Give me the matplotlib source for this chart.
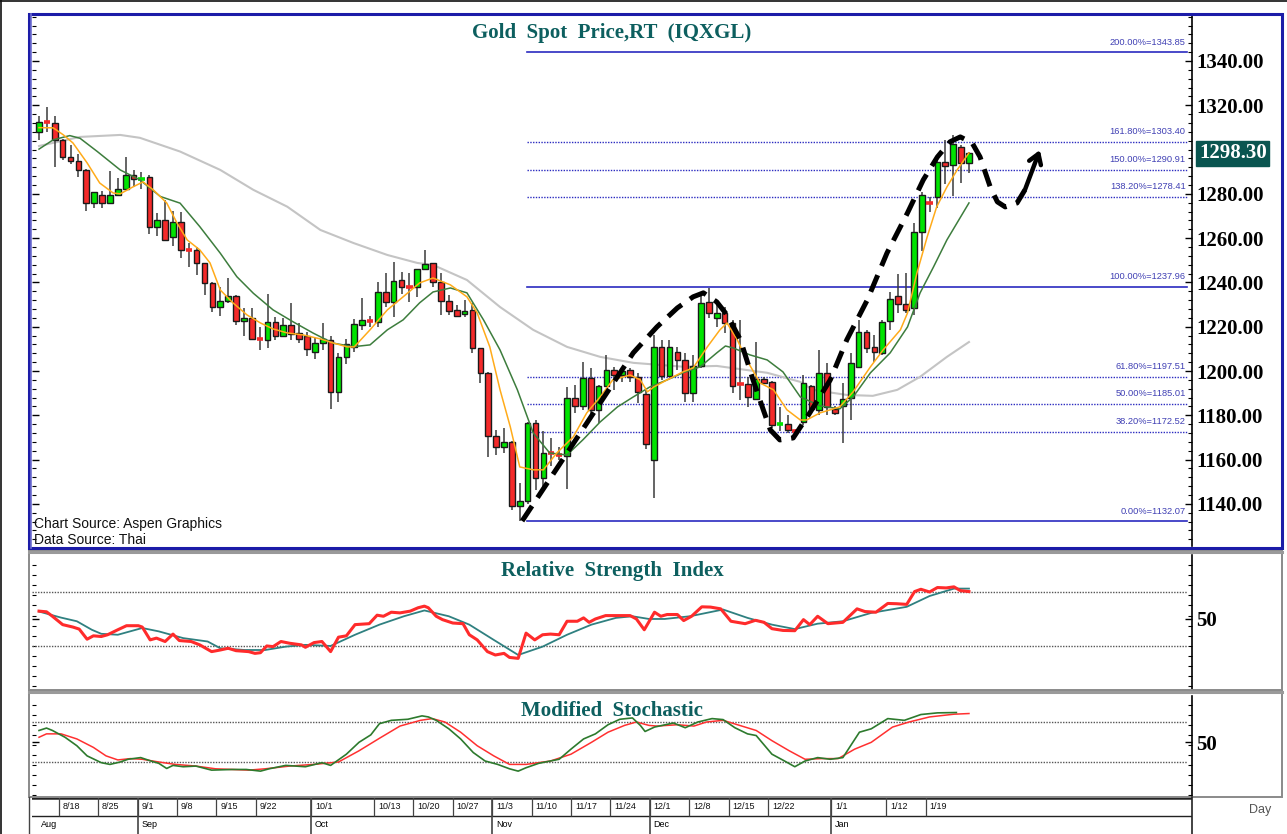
import numpy as np
import pandas as pd
import matplotlib
matplotlib.use('Agg')
import matplotlib.pyplot as plt
from matplotlib.patches import Rectangle
from matplotlib.lines import Line2D
from matplotlib.ticker import MultipleLocator, FixedLocator

# daily bars, 2014-08-13 .. 2015-01-26
opens = [1308.1, 1312.5, 1311.9, 1304.4, 1296.8, 1294.9, 1290.8, 1275.8, 1279.7, 1275.8,
         1279.7, 1282.1, 1288.7, 1286.6, 1287.4, 1265.2, 1268.2, 1260.7, 1267.5, 1254.6,
         1254.5, 1248.7, 1239.6, 1229.1, 1231.7, 1234.1, 1222.6, 1224.1, 1214.6, 1214.0,
         1222.0, 1215.9, 1220.8, 1217.1, 1215.6, 1208.5, 1212.6, 1214.0, 1190.5, 1206.5,
         1211.0, 1220.8, 1223.0, 1222.0, 1235.6, 1231.3, 1241.1, 1238.3, 1238.1, 1246.1,
         1248.7, 1240.4, 1231.4, 1227.6, 1225.8, 1227.6, 1210.3, 1199.3, 1170.7, 1165.9,
         1167.9, 1139.2, 1141.5, 1176.4, 1151.6, 1163.1, 1162.3, 1161.7, 1187.7, 1184.4,
         1196.8, 1182.5, 1193.4, 1200.5, 1198.2, 1200.5, 1197.5, 1189.5, 1159.9, 1211.0,
         1197.8, 1208.8, 1205.0, 1190.0, 1202.3, 1231.1, 1223.9, 1226.4, 1221.6, 1194.4,
         1194.2, 1187.4, 1196.3, 1195.2, 1175.8, 1176.1, 1173.3, 1177.2, 1193.3, 1182.5,
         1199.3, 1183.0, 1184.3, 1187.7, 1201.7, 1217.5, 1211.0, 1208.0, 1222.6, 1234.1,
         1230.2, 1228.4, 1262.7, 1276.4, 1278.5, 1294.3, 1292.9, 1301.1, 1293.8]
highs = [1315.2, 1319.1, 1315.2, 1304.6, 1302.1, 1298.0, 1291.2, 1281.0, 1281.5, 1290.5,
         1287.3, 1296.5, 1290.8, 1290.0, 1288.5, 1271.3, 1277.3, 1272.4, 1272.0, 1257.8,
         1256.2, 1249.0, 1240.0, 1238.1, 1241.9, 1234.5, 1228.4, 1228.4, 1220.1, 1234.8,
         1224.6, 1223.9, 1230.6, 1221.6, 1217.5, 1215.0, 1221.7, 1216.0, 1208.0, 1214.5,
         1223.5, 1233.0, 1225.0, 1240.2, 1244.2, 1249.4, 1244.9, 1244.3, 1246.0, 1254.7,
         1249.0, 1244.2, 1234.4, 1229.8, 1232.1, 1230.8, 1210.5, 1199.5, 1173.4, 1174.2,
         1168.2, 1149.3, 1177.2, 1177.9, 1172.7, 1169.7, 1165.9, 1193.0, 1193.7, 1204.3,
         1201.3, 1193.5, 1207.3, 1202.0, 1202.0, 1201.3, 1199.0, 1191.5, 1216.3, 1214.1,
         1214.1, 1211.0, 1208.0, 1207.3, 1235.1, 1237.4, 1232.1, 1229.1, 1223.1, 1223.1,
         1197.5, 1213.3, 1197.5, 1195.5, 1183.9, 1180.2, 1174.0, 1198.2, 1193.5, 1209.5,
         1203.5, 1184.3, 1194.5, 1208.0, 1223.1, 1218.6, 1216.3, 1223.1, 1235.9, 1243.8,
         1244.2, 1266.7, 1281.0, 1278.8, 1296.8, 1304.4, 1306.6, 1302.1, 1299.1]
lows = [1304.4, 1308.1, 1292.0, 1295.3, 1293.5, 1287.5, 1272.4, 1273.5, 1273.5, 1275.5,
        1279.1, 1281.8, 1283.3, 1282.2, 1261.9, 1261.1, 1258.9, 1256.5, 1250.9, 1247.1,
        1243.4, 1234.4, 1226.8, 1224.9, 1230.6, 1220.8, 1215.6, 1214.2, 1209.5, 1210.3,
        1214.0, 1215.5, 1214.0, 1212.6, 1207.0, 1205.5, 1209.5, 1183.0, 1186.0, 1203.0,
        1208.5, 1218.6, 1220.0, 1220.0, 1229.0, 1224.6, 1235.0, 1231.3, 1233.6, 1245.7,
        1238.1, 1225.3, 1225.3, 1224.6, 1224.6, 1208.2, 1194.8, 1161.1, 1162.1, 1162.9,
        1137.3, 1132.1, 1140.0, 1146.3, 1147.1, 1156.9, 1159.9, 1146.6, 1181.0, 1182.5,
        1177.9, 1176.4, 1193.0, 1191.5, 1195.0, 1195.2, 1185.5, 1164.7, 1142.6, 1196.0,
        1197.5, 1200.5, 1186.2, 1186.2, 1201.3, 1223.9, 1220.1, 1217.1, 1190.0, 1186.9,
        1183.9, 1186.9, 1194.5, 1174.2, 1172.7, 1171.9, 1172.0, 1175.7, 1181.0, 1180.2,
        1180.2, 1180.2, 1167.4, 1177.9, 1201.3, 1208.0, 1204.3, 1207.3, 1218.6, 1226.1,
        1226.1, 1225.3, 1254.4, 1272.0, 1273.5, 1284.5, 1279.1, 1284.8, 1289.6]
closes = [1312.3, 1312.0, 1304.4, 1296.8, 1294.9, 1290.8, 1275.8, 1280.7, 1275.8, 1279.7,
          1282.2, 1288.6, 1286.6, 1287.2, 1265.2, 1268.2, 1259.2, 1267.5, 1254.7, 1254.3,
          1248.7, 1239.6, 1229.1, 1231.7, 1234.1, 1222.6, 1224.1, 1214.4, 1214.2, 1222.0,
          1215.9, 1220.8, 1216.8, 1214.4, 1210.0, 1212.6, 1214.5, 1190.5, 1206.5, 1212.0,
          1221.1, 1223.1, 1222.6, 1235.6, 1231.3, 1240.7, 1238.1, 1238.0, 1245.9, 1248.2,
          1240.4, 1231.4, 1227.3, 1224.9, 1227.3, 1210.3, 1199.3, 1170.7, 1165.9, 1167.9,
          1139.2, 1141.5, 1176.4, 1151.6, 1163.2, 1162.7, 1161.9, 1187.7, 1184.4, 1196.8,
          1182.5, 1193.4, 1200.5, 1198.2, 1200.0, 1197.5, 1190.7, 1167.1, 1211.0, 1197.8,
          1211.0, 1205.0, 1190.0, 1202.3, 1230.6, 1226.1, 1226.4, 1221.6, 1193.4, 1194.0,
          1188.5, 1196.3, 1194.8, 1175.7, 1176.2, 1173.4, 1172.9, 1194.5, 1182.8, 1199.3,
          1183.7, 1181.2, 1187.3, 1203.8, 1217.5, 1210.3, 1208.5, 1222.3, 1232.6, 1230.2,
          1227.6, 1262.7, 1279.4, 1275.4, 1294.6, 1292.6, 1302.6, 1293.8, 1298.3]

# moving averages (bar index, price)
ma_fast_x = [0, 1.8, 3.1, 4.3, 6.1, 7.7, 9.4, 10.3, 11.9, 13.2, 14.5, 16.2, 17.5, 18.8, 20.4,
             21.7, 23, 24.6, 26.4, 28.1, 29.7, 31.5, 33.5, 35.7, 37.3, 39.1, 40, 42, 44.2, 46.2,
             48.3, 50, 52.2, 54.3, 55.6, 57.2, 58.5, 59.8, 61, 62.7, 64, 65.7, 67.8, 69.5, 71.2,
             72.8, 75, 76.3, 77.2, 78, 79.7, 81.7, 83, 84.8, 86.4, 87.3, 88.6, 89.8, 91.5, 93.2,
             94.9, 96.6, 97.4, 99.1, 101.6, 103.3, 105.5, 107.1, 109.3, 110.2, 111.4, 112.7,
             113.9, 115.2, 116.5, 118]
ma_fast_y = [1309.9, 1309.8, 1306.6, 1303.0, 1294.0, 1284.9, 1280.4, 1280.0, 1283.1, 1285.4,
             1281.8, 1275.9, 1266.9, 1259.2, 1254.7, 1248.8, 1236.6, 1230.8, 1225.3, 1221.7,
             1219.0, 1217.2, 1216.3, 1214.5, 1212.7, 1210.9, 1210.9, 1218.6, 1227.6, 1233.5,
             1239.8, 1242.0, 1238.9, 1233.5, 1226.2, 1210.9, 1191.5, 1174.8, 1156.7, 1155.4,
             1155.4, 1163.0, 1170.3, 1181.1, 1188.3, 1196.0, 1198.2, 1196.0, 1190.6, 1192.8,
             1196.0, 1199.6, 1201.4, 1210.9, 1218.6, 1221.7, 1214.1, 1205.0, 1194.6, 1191.5,
             1182.5, 1177.9, 1177.9, 1181.1, 1183.8, 1190.6, 1201.9, 1209.5, 1218.6, 1226.2,
             1244.3, 1260.6, 1274.1, 1283.1, 1290.8, 1298.5]
ma_mid_x = [0, 1.8, 3.9, 5.2, 7.4, 10.3, 12.8, 15.4, 17.9, 20.4, 23, 25.1, 27.2, 29.7, 32.2,
            34.8, 37.3, 39.9, 42, 44.2, 46.2, 48.3, 50, 52.2, 54.3, 56.4, 58.5, 60.7, 62.7,
            64.8, 67, 69, 71.2, 73.4, 75.4, 77.5, 79.7, 81.7, 83.9, 86, 87.1, 88.1, 90.2, 92.4,
            94.4, 96.6, 99.1, 101.6, 103.3, 105.5, 108, 110.2, 111.8, 113.5, 115.2, 118]
ma_mid_y = [1300.2, 1304.4, 1306.3, 1305.1, 1299.1, 1290.8, 1286.3, 1278.8, 1275.8, 1265.2,
            1253.2, 1242.6, 1235.1, 1227.6, 1222.3, 1217.1, 1212.6, 1211.0, 1211.8, 1218.6,
            1223.1, 1230.8, 1235.7, 1237.5, 1235.3, 1223.1, 1209.5, 1191.5, 1172.1, 1163.0,
            1162.1, 1168.9, 1177.0, 1183.8, 1188.3, 1192.8, 1196.0, 1199.2, 1201.9, 1208.2,
            1211.3, 1210.4, 1207.3, 1205.0, 1199.6, 1188.3, 1184.3, 1182.9, 1188.3, 1199.2,
            1208.2, 1219.9, 1235.3, 1247.0, 1259.2, 1275.9]
ma_slow_x = [0, 5.2, 10.3, 12.8, 17.9, 23, 27.2, 31.5, 35.7, 39.9, 44.2, 48, 50, 54.3, 58.5,
             62.7, 67, 71.2, 75.4, 81.9, 86, 92.4, 96.6, 98.2, 102.5, 105.8, 108.9, 111.8,
             115.2, 118]
ma_slow_y = [1301.6, 1305.7, 1306.6, 1305.3, 1299.1, 1290.8, 1281.8, 1274.2, 1263.7, 1257.8,
             1252.4, 1248.8, 1247.9, 1241.1, 1228.9, 1218.6, 1210.9, 1206.4, 1203.7, 1201.9,
             1202.3, 1199.2, 1195.1, 1191.5, 1189.2, 1188.8, 1191.5, 1197.4, 1206.4, 1213.1]

# fibonacci levels
fib_pct = ['200.00%', '161.80%', '150.00%', '138.20%', '100.00%', '61.80%', '50.00%', '38.20%', '0.00%']
fib_val = [1343.85, 1303.40, 1290.91, 1278.41, 1237.96, 1197.51, 1185.01, 1172.52, 1132.07]
fib_solid = [True, False, False, False, True, False, False, False, True]

# hand drawn projection path (bar index, price)
path_x = [61.3, 75.4, 78.4, 81.0, 83.0, 84.3, 86.0, 87.3, 89.0, 90.6, 91.9, 92.8, 94.0, 95.7,
          97.8, 100.4, 102.5, 105.1, 107.6, 110.2, 112.2, 114.0, 115.6, 116.9, 118.4, 119.4,
          120.7, 121.6, 122.6, 124.1, 125.1]
path_y = [1132.3, 1208.2, 1219.9, 1228.5, 1233.5, 1235.3, 1231.2, 1225.3, 1214.1, 1196.0,
          1182.5, 1173.4, 1168.9, 1169.8, 1181.1, 1196.0, 1214.1, 1232.1, 1253.3, 1271.4,
          1286.3, 1296.7, 1303.5, 1305.7, 1303.0, 1296.7, 1283.1, 1276.4, 1274.1, 1275.9, 1281.8]
arrow_tip = (127.0, 1299.8)

# RSI
rsi_x = [0, 0.95, 1.7, 3.0, 4.3, 5.1, 6.1, 6.9, 7.9, 8.7, 10.0, 11.1, 12.6, 13.1, 14.1, 14.9,
         16.0, 17.0, 17.8, 19.3, 20.4, 21.9, 23.0, 24.0, 25.0, 26.6, 27.4, 28.1, 28.9, 29.7,
         30.7, 31.8, 33.3, 33.8, 34.9, 35.9, 37.0, 38.0, 39.0, 40.1, 41.9, 42.9, 43.7, 44.7,
         45.8, 47.1, 48.1, 48.9, 49.4, 50.4, 51.2, 52.5, 53.8, 54.6, 55.6, 56.9, 57.9, 59.0,
         59.7, 60.8, 61.8, 62.9, 63.9, 64.9, 66.0, 67.0, 68.3, 69.1, 69.8, 70.6, 71.9, 73.7,
         75.0, 75.8, 76.8, 78.1, 78.9, 79.7, 81.0, 81.8, 82.8, 84.1, 85.2, 86.5, 87.8, 89.6,
         90.9, 92.0, 93.0, 94.4, 95.9, 97.0, 97.8, 98.8, 100.1, 102.0, 103.8, 104.8, 106.2,
         107.7, 108.8, 110.1, 111.1, 111.9, 113.0, 114.0, 115.1, 116.1, 116.9, 118.0]
rsi_y = [55.8, 55.3, 52.0, 45.8, 44.0, 42.5, 35.0, 37.5, 37.0, 38.3, 42.0, 45.0, 45.0, 44.0,
         34.5, 35.8, 33.3, 38.8, 34.0, 33.3, 30.8, 25.8, 27.0, 28.3, 26.5, 25.8, 24.5, 25.0,
         30.0, 29.5, 33.3, 32.0, 30.8, 29.0, 32.5, 33.3, 25.8, 36.5, 37.5, 45.8, 46.5, 52.8,
         52.0, 55.0, 54.5, 55.8, 58.3, 59.5, 58.3, 52.0, 49.5, 47.0, 46.5, 38.3, 34.5, 25.8,
         23.3, 24.5, 21.5, 20.8, 39.5, 34.5, 38.3, 38.8, 38.3, 48.3, 48.3, 50.8, 47.5, 50.0,
         52.5, 52.5, 52.5, 50.0, 42.0, 55.0, 52.0, 53.3, 53.3, 48.8, 52.0, 59.0, 58.8, 57.5,
         48.3, 46.5, 49.0, 47.5, 42.8, 41.5, 41.3, 49.5, 45.8, 52.0, 46.5, 47.5, 57.5, 55.5,
         55.0, 61.5, 61.3, 60.8, 70.3, 72.0, 70.0, 73.3, 73.0, 73.8, 71.0, 70.3]
rsi_sig_x = [0, 2.8, 4.8, 6.7, 7.9, 10.0, 13.1, 15.2, 18.3, 21.4, 23.0, 26.1, 28.7, 31.3,
             33.8, 37.0, 40.1, 43.2, 46.3, 48.9, 52.0, 54.6, 57.7, 60.8, 63.9, 67.0, 70.1,
             73.2, 75.3, 77.4, 79.4, 82.6, 86.8, 89.9, 93.0, 95.9, 98.8, 102.0, 105.6, 110.1,
             113.0, 116.1, 118.0]
rsi_sig_y = [55.5, 51.0, 48.3, 42.0, 39.0, 38.3, 43.3, 40.8, 35.8, 33.3, 28.3, 27.0, 27.0,
             29.5, 30.8, 30.0, 38.3, 45.8, 52.0, 56.3, 52.0, 45.8, 34.5, 23.3, 29.5, 38.3,
             45.8, 50.8, 52.0, 50.0, 50.0, 52.0, 57.0, 50.8, 45.8, 42.5, 46.5, 48.3, 54.5,
             59.0, 67.0, 72.5, 72.5]

# modified stochastic
sto_k_x = [0, 0.95, 1.7, 3.3, 4.8, 6.1, 7.9, 9.0, 10.3, 11.3, 12.9, 14.2, 15.2, 16.2, 17.0,
           18.3, 19.9, 21.9, 24.5, 26.3, 28.1, 29.2, 31.3, 33.8, 35.9, 37.0, 39.0, 40.6, 42.1,
           43.2, 44.7, 46.8, 48.6, 49.4, 50.4, 52.0, 53.5, 55.1, 56.6, 58.2, 59.7, 60.8, 61.8,
           63.4, 66.0, 67.5, 69.1, 70.6, 72.2, 73.7, 75.3, 76.3, 76.9, 78.1, 80.5, 82.0, 83.6,
           85.4, 86.8, 88.3, 89.9, 91.0, 93.0, 94.6, 95.9, 97.2, 98.8, 100.4, 102.0, 104.1,
           105.6, 107.7, 109.8, 111.9, 114.0, 116.4]
sto_k_y = [67.3, 70.9, 67.3, 57.1, 44.4, 29.2, 19.0, 16.4, 20.0, 24.1, 26.6, 21.5, 18.0, 10.3,
           14.9, 12.9, 13.9, 7.8, 8.8, 8.8, 6.3, 9.8, 14.9, 12.9, 19.0, 14.9, 31.7, 49.5, 60.7,
           77.5, 82.5, 84.1, 89.2, 87.6, 82.5, 69.8, 54.6, 34.2, 21.5, 16.4, 9.8, 6.3, 11.4,
           18.0, 24.1, 39.3, 54.6, 62.2, 75.9, 84.1, 86.1, 74.9, 65.8, 72.4, 78.5, 71.4, 80.0,
           85.1, 83.6, 71.4, 62.2, 59.7, 31.7, 21.5, 12.9, 21.5, 26.6, 24.1, 26.6, 64.7, 69.8,
           85.1, 82.5, 91.2, 93.7, 94.2]
sto_d_x = [0, 0.95, 2.8, 4.8, 6.9, 8.5, 10.0, 11.6, 13.1, 15.2, 17.3, 19.9, 22.4, 24.5, 26.6,
           28.7, 31.8, 34.9, 38.0, 40.6, 43.2, 45.8, 48.4, 49.9, 51.5, 53.5, 55.6, 57.7, 59.7,
           61.8, 64.9, 67.5, 70.1, 72.2, 74.3, 75.8, 77.4, 78.4, 81.0, 83.1, 84.7, 86.8, 88.9,
           91.0, 93.0, 95.2, 97.2, 99.3, 101.4, 103.5, 105.6, 108.3, 110.4, 113.0, 116.1, 118.0]
sto_d_y = [57.1, 62.2, 62.2, 54.6, 41.9, 29.2, 23.1, 25.1, 24.1, 20.0, 16.4, 13.9, 9.8, 8.8,
           7.8, 9.8, 13.9, 16.4, 20.0, 36.8, 55.6, 73.9, 82.5, 85.1, 80.0, 64.7, 44.4, 29.2,
           16.4, 16.4, 21.5, 31.7, 49.5, 64.7, 74.9, 80.0, 74.9, 73.9, 75.9, 73.9, 80.0, 82.5,
           74.9, 67.3, 52.0, 36.8, 24.1, 25.1, 25.1, 39.3, 49.5, 72.4, 80.0, 87.6, 91.7, 92.7]

# date axis
week_ticks = ['2014-08-18', '2014-08-25', '2014-09-01', '2014-09-08', '2014-09-15', '2014-09-22',
              '2014-10-01', '2014-10-13', '2014-10-20', '2014-10-27', '2014-11-03', '2014-11-10',
              '2014-11-17', '2014-11-24', '2014-12-01', '2014-12-08', '2014-12-15', '2014-12-22',
              '2015-01-01', '2015-01-12', '2015-01-19']
month_ticks = ['2014-09-01', '2014-10-01', '2014-11-03', '2014-12-01', '2015-01-01']
month_names = ['Sep', 'Oct', 'Nov', 'Dec', 'Jan']

W, H = 1287, 834
XLIM = (-0.89, 146.3)
TEAL = '#0d5f5f'
FIB_BLUE = '#2b2bc0'
SERIF = ['Liberation Serif', 'DejaVu Serif']
SANS = ['Liberation Sans', 'DejaVu Sans']


def frac(x0, y0, x1, y1):
    """pixel box -> figure fraction rect"""
    return [x0 / W, 1 - y1 / H, (x1 - x0) / W, (y1 - y0) / H]


def style_axis(ax):
    ax.set_xlim(*XLIM)
    for s in ('top', 'bottom', 'left'):
        ax.spines[s].set_visible(False)
    ax.spines['right'].set_color('black')
    ax.spines['right'].set_linewidth(1.2)
    ax.tick_params(axis='x', bottom=False, labelbottom=False)
    ax.tick_params(axis='y', which='both', left=True, right=True, direction='in',
                   labelleft=False, labelright=True, colors='black', pad=3)
    ax.tick_params(axis='y', which='major', length=5, width=1)
    ax.tick_params(axis='y', which='minor', length=3, width=0.8)
    ax.patch.set_alpha(0)


fig = plt.figure(figsize=(W / 100, H / 100), dpi=100)
fig.patch.set_facecolor('white')

# ---------------- price panel ----------------
ax = fig.add_axes(frac(32, 16, 1192, 546))
style_axis(ax)
ax.set_ylim(1121.0, 1360.3)
ax.yaxis.set_minor_locator(MultipleLocator(4))
price_ticks = [1140, 1160, 1180, 1200, 1220, 1240, 1260, 1280, 1320, 1340]
ax.set_yticks(price_ticks)
ax.set_yticklabels(['%.2f' % v for v in price_ticks],
                   fontfamily=SERIF, fontweight='bold', fontsize=15)

o, h, l, c = map(np.array, (opens, highs, lows, closes))
x = np.arange(len(c))
up = c >= o
doji = np.abs(c - o) < 1.2
ax.vlines(x, l, h, color='#3a3a3a', lw=1.1, zorder=3)
lo = np.minimum(o, c)
ht = np.abs(c - o)
for mask, col in ((up & ~doji, '#00e400'), (~up & ~doji, '#f42a2a')):
    ax.bar(x[mask], ht[mask], bottom=lo[mask], width=0.72, color=col,
           edgecolor='#1a1a1a', linewidth=1.0, zorder=4)
for mask, col in ((up & doji, '#00e400'), (~up & doji, '#f42a2a')):
    ax.hlines((o[mask] + c[mask]) / 2, x[mask] - 0.4, x[mask] + 0.4, color=col, lw=2.6, zorder=4)

ax.plot(ma_slow_x, ma_slow_y, color='#c4c4c4', lw=1.5, zorder=2)
ax.plot(ma_mid_x, ma_mid_y, color='#3d7d3d', lw=1.1, zorder=5)
ax.plot(ma_fast_x, ma_fast_y, color='#ffab1a', lw=1.1, zorder=5)

for pct, val, solid in zip(fib_pct, fib_val, fib_solid):
    ax.plot([61.9, 145.7], [val, val], color=FIB_BLUE, lw=1.2 if solid else 1.0,
            ls='-' if solid else (0, (1, 1)), zorder=1)
    ax.annotate('%s=%.2f' % (pct, val), xy=(145.5, val), xytext=(0, 7.5),
                textcoords='offset points', ha='right', va='center', fontsize=6.7,
                color='#4040b4', fontfamily=SANS)

ax.plot(path_x, path_y, color='black', lw=3.6, ls=(0, (3.6, 2.0)), zorder=6,
        solid_capstyle='butt', dash_capstyle='butt')
ax.annotate('', xy=arrow_tip, xytext=(path_x[-1], path_y[-1]),
            arrowprops=dict(arrowstyle='->,head_length=0.7,head_width=0.45', color='black',
                            lw=3.2, shrinkA=0, shrinkB=0), zorder=6)

ax.text(0.5, 0.968, 'Gold  Spot  Price,RT  (IQXGL)', transform=ax.transAxes, ha='center',
        va='center', fontsize=15, fontweight='bold', color=TEAL, fontfamily=SERIF)
ax.text(0.0015, 0.0415, 'Chart Source: Aspen Graphics', transform=ax.transAxes, ha='left',
        va='center', fontsize=10, color='#111111', fontfamily=SANS)
ax.text(0.0015, 0.0113, 'Data Source: Thai', transform=ax.transAxes, ha='left',
        va='center', fontsize=10, color='#111111', fontfamily=SANS)

ax.annotate('%.2f' % closes[-1], xy=(1.0, closes[-1]), xycoords=('axes fraction', 'data'),
            xytext=(5, 0), textcoords='offset points', ha='left', va='center', fontsize=15,
            fontweight='bold', color='white', fontfamily=SERIF,
            bbox=dict(boxstyle='square,pad=0.12', fc='#0a5550', ec='#0a5550'))

# ---------------- RSI panel ----------------
axr = fig.add_axes(frac(32, 555, 1192, 689))
style_axis(axr)
axr.set_ylim(-1.9, 97.4)
axr.yaxis.set_major_locator(FixedLocator([50]))
axr.yaxis.set_minor_locator(MultipleLocator(7.5))
axr.set_yticklabels(['50'], fontfamily=SERIF, fontweight='bold', fontsize=15)
for lvl in (70, 30):
    axr.plot([XLIM[0], 145.7], [lvl, lvl], color='#555555', lw=1.0, ls=(0, (1, 1)))
axr.plot(rsi_sig_x, rsi_sig_y, color='#2f8080', lw=1.3, zorder=3)
axr.plot(rsi_x, rsi_y, color='#ff2b2b', lw=2.2, zorder=4)
axr.text(0.5, 0.88, 'Relative  Strength  Index', transform=axr.transAxes, ha='center',
         va='center', fontsize=15, fontweight='bold', color=TEAL, fontfamily=SERIF)

# ---------------- stochastic panel ----------------
axs = fig.add_axes(frac(32, 696, 1192, 797))
style_axis(axs)
axs.set_ylim(-32.5, 119)
axs.yaxis.set_major_locator(FixedLocator([50]))
axs.yaxis.set_minor_locator(MultipleLocator(15))
axs.set_yticklabels(['50'], fontfamily=SERIF, fontweight='bold', fontsize=15)
for lvl in (80, 20):
    axs.plot([XLIM[0], 145.7], [lvl, lvl], color='#555555', lw=1.0, ls=(0, (1, 1)))
axs.plot(sto_d_x, sto_d_y, color='#ff3030', lw=1.1, zorder=3)
axs.plot(sto_k_x, sto_k_y, color='#2d7a2d', lw=1.2, zorder=4)
axs.text(0.5, 0.85, 'Modified  Stochastic', transform=axs.transAxes, ha='center',
         va='center', fontsize=15, fontweight='bold', color=TEAL, fontfamily=SERIF)

# ---------------- date strip ----------------
axd = fig.add_axes(frac(32, 797, 1192, 834))
axd.set_xlim(*XLIM)
axd.set_ylim(0, 2)
axd.axis('off')
dates = pd.bdate_range('2014-08-13', periods=len(closes))
wpos = dates.get_indexer(pd.to_datetime(week_ticks))
mpos = dates.get_indexer(pd.to_datetime(month_ticks))
axd.axhline(1.95, color='#222222', lw=1.8)
axd.axhline(1.0, color='#222222', lw=1.0)
axd.vlines(wpos - 0.5, 1.0, 2.0, color='#444444', lw=0.9)
axd.vlines(mpos - 0.5, 0.0, 2.0, color='#444444', lw=1.2)
for p, d in zip(wpos, pd.to_datetime(week_ticks)):
    axd.text(p, 1.48, '%d/%d' % (d.month, d.day), ha='left', va='center',
             fontsize=6.5, fontfamily=SANS, color='#111111')
axd.text(0.2, 0.5, 'Aug', ha='left', va='center', fontsize=6.5, fontfamily=SANS)
for p, name in zip(mpos, month_names):
    axd.text(p, 0.5, name, ha='left', va='center', fontsize=6.5, fontfamily=SANS)

fig.text(1260 / W, 1 - 810 / H, 'Day', ha='center', va='center', fontsize=9,
         color='#555555', fontfamily=SANS)

# ---------------- frames ----------------
fig.add_artist(Rectangle((28.5 / W, 1 - 548 / H), 1253 / W, 534 / H, transform=fig.transFigure,
                         fill=False, ec='#1c1ca8', lw=2.2))
fig.add_artist(Line2D([31 / W, 31 / W], [1 - 548 / H, 1 - 14 / H], transform=fig.transFigure,
                      color='#7070d0', lw=1.2))
for y0, y1 in ((551, 690), (691, 797)):
    fig.add_artist(Rectangle((28.5 / W, 1 - y1 / H), 1253 / W, (y1 - y0) / H,
                             transform=fig.transFigure, fill=False, ec='#8a8a8a', lw=1.4))
    fig.add_artist(Line2D([28.5 / W, 1282 / W], [1 - (y0 + 1) / H] * 2, transform=fig.transFigure,
                          color='#9a9a9a', lw=2.2))
fig.add_artist(Line2D([29 / W, 29 / W], [0, 1 - 797 / H], transform=fig.transFigure,
                      color='#444444', lw=1.0))
fig.add_artist(Line2D([1192 / W, 1192 / W], [0, 1 - 797 / H], transform=fig.transFigure,
                      color='#222222', lw=1.2))
fig.add_artist(Line2D([1 / W, 1 / W], [0, 1], transform=fig.transFigure, color='#111111', lw=1.2))
fig.add_artist(Line2D([0, 1], [1 - 1 / H, 1 - 1 / H], transform=fig.transFigure,
                      color='#111111', lw=1.2))

fig.savefig('out.png', dpi=100)
